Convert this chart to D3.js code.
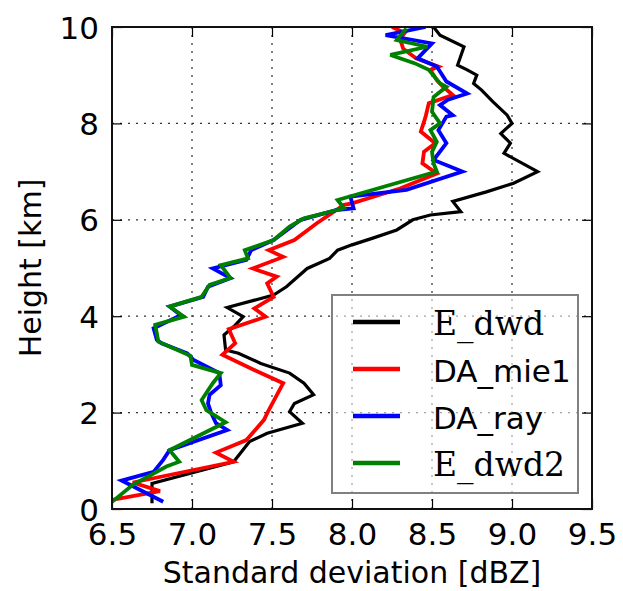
<!DOCTYPE html>
<html>
<head>
<meta charset="utf-8">
<script src="https://cdn.jsdelivr.net/npm/d3@7"></script>
<style>
  body { margin: 0; background: #fff; }
  text { font-family: "DejaVu Sans", sans-serif; fill: #000; }
</style>
</head>
<body>
<div class="container"></div>
<script>
// [std dev (dBZ), height (km)], bottom to top
const eDwd = [[6.75,0.12],[6.75,0.53],[7.26,0.98],[7.36,1.40],[7.47,1.57],[7.69,1.78],[7.61,2.02],[7.64,2.19],[7.76,2.37],[7.70,2.61],[7.61,2.82],[7.43,3.02],[7.29,3.23],[7.21,3.30],[7.20,3.61],[7.26,3.78],[7.32,3.99],[7.22,4.18],[7.51,4.44],[7.59,4.61],[7.72,4.99],[7.86,5.20],[7.91,5.37],[8.00,5.48],[8.13,5.62],[8.28,5.79],[8.38,6.00],[8.49,6.10],[8.68,6.17],[8.63,6.38],[8.84,6.58],[9.01,6.76],[9.16,7.00],[8.95,7.38],[8.99,7.59],[8.93,7.79],[9.00,8.00],[8.97,8.17],[8.88,8.45],[8.81,8.69],[8.76,8.83],[8.78,9.00],[8.72,9.11],[8.66,9.21],[8.70,9.59],[8.55,9.83],[8.51,10.0]];
const daMie1 = [[6.50,0.19],[6.80,0.37],[6.63,0.55],[7.26,0.98],[7.15,1.17],[7.34,1.43],[7.45,1.85],[7.47,1.99],[7.57,2.61],[7.43,2.82],[7.19,3.20],[7.27,3.44],[7.23,3.73],[7.46,3.99],[7.39,4.16],[7.51,4.40],[7.47,4.68],[7.53,4.82],[7.38,4.99],[7.57,5.23],[7.48,5.37],[7.64,5.58],[7.78,5.93],[7.95,6.31],[8.00,6.34],[8.30,6.65],[8.53,6.96],[8.44,7.17],[8.45,7.41],[8.52,7.59],[8.43,7.83],[8.46,8.14],[8.48,8.42],[8.63,8.59],[8.57,8.76],[8.53,8.90],[8.49,9.11],[8.54,9.18],[8.40,9.35],[8.32,9.55],[8.30,9.75],[8.33,9.88],[8.25,10.0]];
const daRay = [[6.82,0.15],[6.56,0.59],[6.76,0.77],[6.82,1.02],[6.86,1.22],[7.22,1.64],[7.15,1.78],[7.12,1.99],[7.10,2.19],[7.11,2.37],[7.18,2.57],[7.17,2.82],[7.01,3.09],[6.97,3.23],[6.81,3.44],[6.78,3.51],[6.76,3.75],[6.93,4.02],[6.86,4.20],[7.07,4.40],[7.10,4.61],[7.24,4.79],[7.13,4.99],[7.34,5.17],[7.37,5.37],[7.51,5.58],[7.68,6.00],[7.90,6.20],[8.01,6.24],[7.99,6.48],[8.34,6.62],[8.69,7.00],[8.51,7.24],[8.59,7.59],[8.54,7.86],[8.59,8.14],[8.63,8.17],[8.55,8.38],[8.60,8.49],[8.72,8.62],[8.59,8.87],[8.53,9.18],[8.41,9.35],[8.50,9.66],[8.21,9.83],[8.46,10.0]];
const eDwd2 = [[6.49,0.12],[6.63,0.50],[6.84,0.88],[6.92,0.98],[6.86,1.22],[7.21,1.80],[7.09,2.05],[7.06,2.26],[7.13,2.61],[7.18,2.82],[7.00,2.99],[6.99,3.18],[6.79,3.47],[6.77,3.82],[6.95,3.99],[6.86,4.20],[7.06,4.40],[7.11,4.65],[7.24,4.79],[7.18,5.06],[7.35,5.20],[7.33,5.37],[7.51,5.58],[7.61,5.86],[7.70,6.03],[7.95,6.24],[7.91,6.41],[8.53,7.00],[8.51,7.17],[8.50,7.41],[8.53,7.62],[8.49,7.86],[8.55,8.00],[8.50,8.24],[8.51,8.55],[8.59,8.76],[8.55,8.83],[8.48,9.11],[8.39,9.25],[8.24,9.42],[8.47,9.59],[8.28,9.73],[8.34,9.97]];

const seriesNames = ["E_dwd", "DA_mie1", "DA_ray", "E_dwd2"];
const seriesColors = ["#000000", "#ff0000", "#0000ff", "#008000"];
const seriesData = [eDwd, daMie1, daRay, eDwd2];
const xTicks = [6.5, 7.0, 7.5, 8.0, 8.5, 9.0, 9.5];
const yTicks = [0, 2, 4, 6, 8, 10];

const w = 623;
const h = 591;
// plot box edges (top is a window global, so use other names)
const padL = 112, padR = 592, padT = 27, padB = 509;

const svg = d3.select(".container")
              .append("svg")
              .attr("width", w)
              .attr("height", h)
              .style("background-color", "#fff");

const x = d3.scaleLinear().domain([6.5, 9.5]).range([padL, padR]);
const y = d3.scaleLinear().domain([0, 10]).range([padB, padT]);

// dotted grid
svg.append("g")
   .selectAll("line")
   .data(xTicks.slice(1, -1))
   .enter().append("line")
   .attr("x1", d => x(d)).attr("x2", d => x(d))
   .attr("y1", padT).attr("y2", padB)
   .attr("stroke", "#333").attr("stroke-width", 1.2)
   .attr("stroke-dasharray", "2,6");

svg.append("g")
   .selectAll("line")
   .data(yTicks.slice(1, -1))
   .enter().append("line")
   .attr("y1", d => y(d)).attr("y2", d => y(d))
   .attr("x1", padL).attr("x2", padR)
   .attr("stroke", "#333").attr("stroke-width", 1.2)
   .attr("stroke-dasharray", "2,6");

// axes, ticks pointing inward
const xAxis = svg.append("g")
                 .attr("transform", `translate(0, ${padB})`)
                 .call(d3.axisBottom(x).tickValues(xTicks).tickFormat(d3.format(".1f")).tickSizeInner(-10).tickSizeOuter(0).tickPadding(14));
const xAxisTop = svg.append("g")
                    .attr("transform", `translate(0, ${padT})`)
                    .call(d3.axisTop(x).tickValues(xTicks).tickFormat("").tickSizeInner(-10).tickSizeOuter(0));
const yAxis = svg.append("g")
                 .attr("transform", `translate(${padL}, 0)`)
                 .call(d3.axisLeft(y).tickValues(yTicks).tickSizeInner(-10).tickSizeOuter(0).tickPadding(13));
const yAxisRight = svg.append("g")
                      .attr("transform", `translate(${padR}, 0)`)
                      .call(d3.axisRight(y).tickValues(yTicks).tickFormat("").tickSizeInner(-10).tickSizeOuter(0));

svg.selectAll(".domain").remove();
svg.selectAll(".tick line").attr("stroke", "#000").attr("stroke-width", 1.2);
xAxis.selectAll("text").style("font-size", "31px").attr("dy", "0.72em");
yAxis.selectAll("text").style("font-size", "31px").attr("dy", "0.36em");

// series
const line = d3.line().x(d => x(d[0])).y(d => y(d[1]));
svg.append("clipPath").attr("id", "plotclip")
   .append("rect")
   .attr("x", padL).attr("y", padT)
   .attr("width", padR - padL).attr("height", padB - padT);

svg.append("g")
   .attr("clip-path", "url(#plotclip)")
   .selectAll("path")
   .data(seriesData)
   .enter().append("path")
   .attr("d", line)
   .attr("fill", "none")
   .attr("stroke", (d, i) => seriesColors[i])
   .attr("stroke-width", (d, i) => i === 0 ? 3.2 : 3.8)
   .attr("stroke-linejoin", "miter")
   .attr("stroke-miterlimit", 3);

// frame
svg.append("rect")
   .attr("x", padL).attr("y", padT)
   .attr("width", padR - padL).attr("height", padB - padT)
   .attr("fill", "none")
   .attr("stroke", "#111")
   .attr("stroke-width", 2);

// legend
const legend = svg.append("g").attr("id", "legend");
legend.append("rect")
      .attr("x", 332).attr("y", 295)
      .attr("width", 246).attr("height", 198)
      .attr("fill", "rgba(255,255,255,0.55)")
      .attr("stroke", "#808080")
      .attr("stroke-width", 2);

const entries = legend.selectAll(".entry")
                      .data(seriesNames)
                      .enter().append("g")
                      .attr("class", "entry")
                      .attr("transform", (d, i) => `translate(353, ${322 + i * 47})`);
entries.append("line")
       .attr("x1", 0).attr("x2", 47)
       .attr("stroke", (d, i) => seriesColors[i])
       .attr("stroke-width", 4.5);
entries.append("text")
       .attr("x", 80)
       .attr("y", 13)
       .text(d => d)
       .style("font-family", d => d.startsWith("E_") ? '"DejaVu Serif", serif' : '"DejaVu Sans", sans-serif')
       .style("font-size", d => d.startsWith("E_") ? "33px" : "31px");

// axis titles
svg.append("text")
   .attr("x", (padL + padR) / 2)
   .attr("y", 583)
   .attr("text-anchor", "middle")
   .style("font-size", "30px")
   .text("Standard deviation [dBZ]");

svg.append("text")
   .attr("transform", `translate(41, ${(padT + padB) / 2}) rotate(-90)`)
   .attr("text-anchor", "middle")
   .style("font-size", "30px")
   .text("Height [km]");
</script>
</body>
</html>
